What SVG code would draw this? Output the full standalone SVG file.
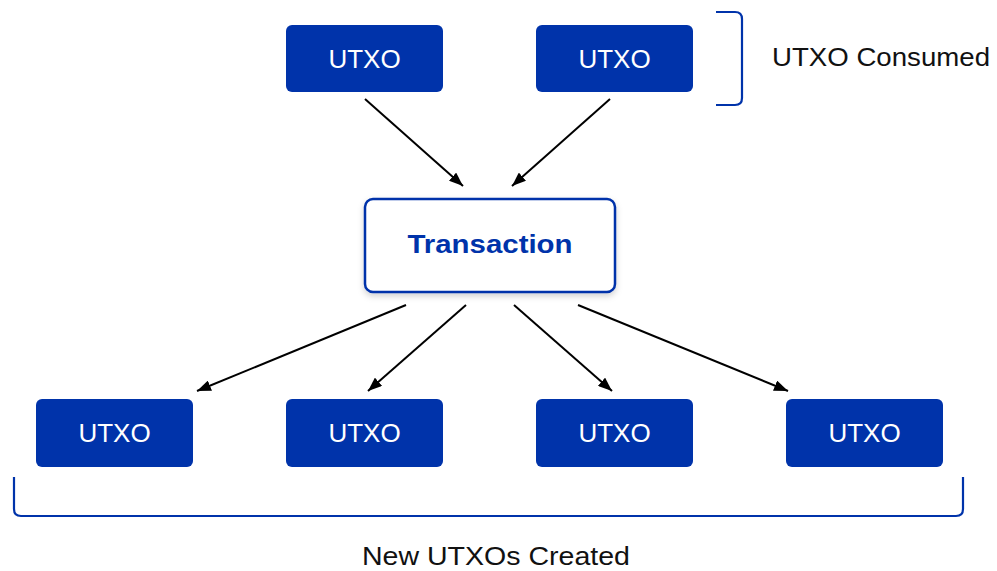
<svg xmlns="http://www.w3.org/2000/svg" width="997" height="571" viewBox="0 0 997 571">
<defs>
<marker id="ah" viewBox="0 0 14 11" refX="14" refY="5.5" markerWidth="14" markerHeight="11" markerUnits="userSpaceOnUse" orient="auto">
<path d="M0,0 L14,5.5 L0,11 z" fill="#000"/>
</marker>
<filter id="sh" x="-10%" y="-20%" width="120%" height="150%">
<feDropShadow dx="0" dy="3" stdDeviation="3" flood-color="#000" flood-opacity="0.18"/>
</filter>
<style>
.u rect{fill:#0033AA;}
.u text{fill:#fff;font-family:"Liberation Sans",Arial,sans-serif;font-size:26px;text-anchor:middle;}
.lbl{fill:#111;font-family:"Liberation Sans",Arial,sans-serif;font-size:25px;}
.br{fill:none;stroke:#0033AA;stroke-width:2.2;}
.c line{stroke:#000;stroke-width:2;marker-end:url(#ah);}
</style>
</defs>
<rect width="997" height="571" fill="#fff"/>

<g id="utxo-in-1" class="u"><rect x="286" y="25" width="157" height="67" rx="6"/><text x="364.5" y="67.5">UTXO</text></g>
<g id="utxo-in-2" class="u"><rect x="536" y="25" width="157" height="67" rx="6"/><text x="614.5" y="67.5">UTXO</text></g>

<g id="transaction">
<rect x="365" y="199" width="250" height="93" rx="8" fill="#fff" stroke="#0033AA" stroke-width="2.5" filter="url(#sh)"/>
<text x="490" y="253" text-anchor="middle" fill="#0033AA" font-family="'Liberation Sans',Arial,sans-serif" font-weight="bold" font-size="26" textLength="165" lengthAdjust="spacingAndGlyphs">Transaction</text>
</g>

<g id="utxo-out-1" class="u"><rect x="36" y="399" width="157" height="68" rx="6"/><text x="114.5" y="442">UTXO</text></g>
<g id="utxo-out-2" class="u"><rect x="286" y="399" width="157" height="68" rx="6"/><text x="364.5" y="442">UTXO</text></g>
<g id="utxo-out-3" class="u"><rect x="536" y="399" width="157" height="68" rx="6"/><text x="614.5" y="442">UTXO</text></g>
<g id="utxo-out-4" class="u"><rect x="786" y="399" width="157" height="68" rx="6"/><text x="864.5" y="442">UTXO</text></g>

<g id="consumed-bracket">
<path class="br" d="M716,12 H735 Q742,12 742,19 V98 Q742,105 735,105 H716"/>
<text class="lbl" x="772" y="66" textLength="218" lengthAdjust="spacingAndGlyphs">UTXO Consumed</text>
</g>

<g id="created-bracket">
<path class="br" d="M14,477 V509 Q14,516 21,516 H956 Q963,516 963,509 V477"/>
<text class="lbl" x="362" y="565" textLength="268" lengthAdjust="spacingAndGlyphs">New UTXOs Created</text>
</g>

<g id="connectors" class="c">
<line x1="365" y1="99" x2="463" y2="186"/>
<line x1="610" y1="99" x2="512" y2="186"/>
<line x1="406" y1="305" x2="197" y2="391"/>
<line x1="466" y1="305" x2="368" y2="391"/>
<line x1="514" y1="305" x2="612" y2="391"/>
<line x1="578" y1="305" x2="788" y2="391"/>
</g>
</svg>
